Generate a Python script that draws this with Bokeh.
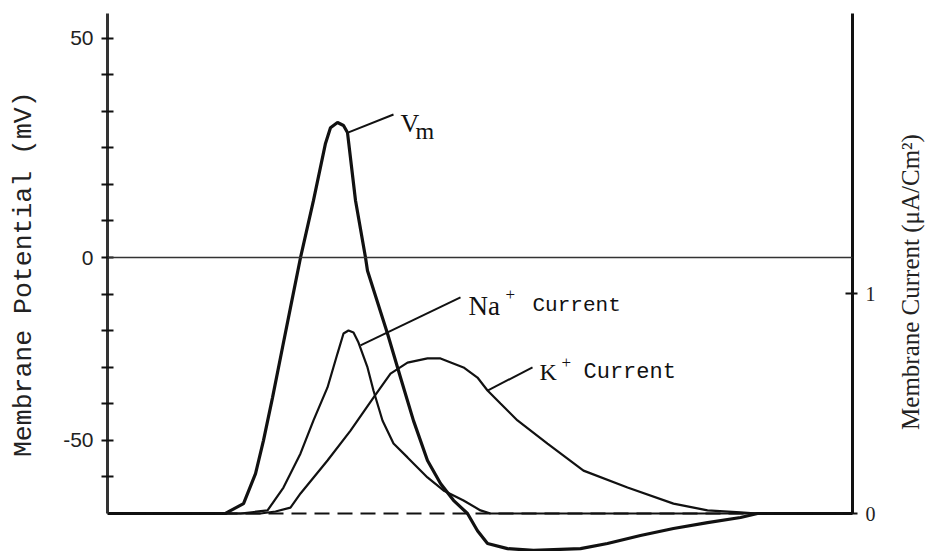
import math
from bokeh.plotting import figure
from bokeh.layouts import row
from bokeh.models import Range1d, LinearAxis, FixedTicker, Span, Label
from bokeh.embed import file_html
from bokeh.resources import INLINE

# ---------------- data ----------------
# Membrane potential, time in ms, potential in mV
vm_t = [0.0, 1.584, 1.651, 1.826, 1.987, 2.094, 2.215, 2.349, 2.456, 2.591, 2.765,
        2.926, 2.993, 3.087, 3.168, 3.221, 3.329, 3.463, 3.490, 3.758, 3.933, 4.107,
        4.295, 4.470, 4.644, 4.832, 4.966, 5.101, 5.369, 5.718, 6.349, 6.711, 7.154,
        7.597, 8.054, 8.497, 8.725, 10.0]
vm_v = [-70.0, -70.0, -69.2, -67.3, -59.1, -50.0, -38.3, -24.6, -13.7, 0.0, 15.6,
        31.2, 35.5, 36.9, 36.1, 34.2, 15.6, 0.0, -3.6, -20.8, -32.8, -44.6,
        -55.5, -61.8, -66.4, -70.0, -74.7, -78.2, -79.6, -80.1, -79.6, -78.2, -76.0,
        -74.1, -72.5, -71.1, -70.0, -70.0]

# Na+ current (right axis)
na_t = [0.0, 1.785, 2.148, 2.362, 2.591, 2.765, 2.953, 3.087, 3.168, 3.235, 3.302,
        3.369, 3.490, 3.570, 3.691, 3.839, 4.027, 4.295, 4.510, 4.779, 5.007, 5.141, 10.0]
na_i = [0.0, 0.0, 0.014, 0.118, 0.273, 0.423, 0.573, 0.727, 0.818, 0.832, 0.823,
        0.777, 0.664, 0.559, 0.423, 0.318, 0.255, 0.164, 0.105, 0.059, 0.014, 0.0, 0.0]

# K+ current (right axis)
k_t = [0.0, 2.054, 2.255, 2.456, 2.591, 2.953, 3.262, 3.570, 3.799, 4.027, 4.295,
       4.470, 4.779, 4.966, 5.101, 5.275, 5.503, 5.906, 6.389, 6.980, 7.597, 8.054,
       8.497, 8.725, 10.0]
k_i = [0.0, 0.0, 0.009, 0.027, 0.091, 0.241, 0.377, 0.527, 0.636, 0.686, 0.705,
       0.705, 0.664, 0.618, 0.559, 0.500, 0.423, 0.318, 0.195, 0.118, 0.045, 0.014,
       0.005, 0.0, 0.0]

# tick values and the labels printed at them in the reference
mv_ticks = [-50, 0, 60]
mv_tick_labels = ["-50", "0", "50"]
mv_minor_ticks = [-60, -40, -30, -20, -10, 10, 20, 30, 40, 50]
cur_ticks = [0, 1]
cur_tick_labels = ["0", "1"]

left_title = "Membrane Potential (mV)"
right_title = "Membrane Current (\u03bcA/Cm\u00b2)"

rest_mv = -70.0

INK = "#111111"
H = 551
LEFT_W, RIGHT_W = 44, 48
MAIN_W = 928 - LEFT_W - RIGHT_W


def title_panel(width, text, font, size, x_frac, y_frac):
    """A narrow axis-less figure that only carries a rotated axis title."""
    q = figure(width=width, height=H, x_range=Range1d(0, 1), y_range=Range1d(0, 1),
               x_axis_location=None, y_axis_location=None,
               output_backend="svg", toolbar_location=None,
               min_border_left=0, min_border_right=0, min_border_top=0, min_border_bottom=0)
    q.outline_line_color = None
    q.grid.visible = False
    q.add_layout(Label(x=x_frac, y=y_frac, text=text, angle=math.pi / 2,
                       text_font=font, text_font_size=size, text_color="#222222",
                       text_align="center", text_baseline="middle"))
    return q


# ---------------- main figure ----------------
p = figure(width=MAIN_W, height=H, x_range=Range1d(0, 10), y_range=Range1d(-80.39, 66.72),
           x_axis_location=None, y_axis_location="left",
           output_backend="svg", toolbar_location=None,
           min_border_left=107 - LEFT_W, min_border_right=LEFT_W + MAIN_W - 852,
           min_border_top=13, min_border_bottom=0)
p.outline_line_color = None
p.grid.visible = False
p.background_fill_color = "white"
p.border_fill_color = "white"

p.extra_y_ranges = {"cur": Range1d(-0.1727, 2.2727)}

# left axis
ya = p.yaxis[0]
ya.bounds = (rest_mv, 66.72)
ya.ticker = FixedTicker(ticks=mv_ticks, minor_ticks=mv_minor_ticks)
ya.major_label_overrides = dict(zip(mv_ticks, mv_tick_labels))
ya.axis_line_width = 3
ya.axis_line_color = "#333333"
ya.major_tick_line_width = 2
ya.minor_tick_line_width = 2
ya.major_tick_line_color = INK
ya.minor_tick_line_color = INK
ya.major_tick_in = 6
ya.major_tick_out = 6
ya.minor_tick_in = 6
ya.minor_tick_out = 6
ya.major_label_standoff = 8
ya.major_label_text_font = "Liberation Sans"
ya.major_label_text_font_size = "21px"
ya.major_label_text_color = "#222222"

# right axis
ra = LinearAxis(y_range_name="cur", bounds=(0, 2.2727))
ra.ticker = FixedTicker(ticks=cur_ticks, minor_ticks=[])
ra.major_label_overrides = dict(zip(cur_ticks, cur_tick_labels))
ra.axis_line_width = 3
ra.axis_line_color = INK
ra.major_tick_line_width = 2
ra.major_tick_line_color = INK
ra.major_tick_in = 7
ra.major_tick_out = 5
ra.major_label_standoff = 8
ra.major_label_text_font = "Liberation Serif"
ra.major_label_text_font_size = "20px"
ra.major_label_text_color = "#222222"
p.add_layout(ra, "right")

# reference lines
p.add_layout(Span(location=0, dimension="width", line_color="#333333", line_width=1.5))
p.add_layout(Span(location=rest_mv, dimension="width", line_color=INK, line_width=2,
                  line_dash="15 8"))

# curves
p.line(na_t, na_i, y_range_name="cur", line_color=INK, line_width=2.2)
p.line(k_t, k_i, y_range_name="cur", line_color=INK, line_width=2.2)
p.line(vm_t, vm_v, line_color=INK, line_width=3.2)

# leader lines
p.segment(x0=[3.235], y0=[34.2], x1=[3.839], y1=[39.1], line_color=INK, line_width=2)
p.segment(x0=[3.396, 5.101], y0=[0.764, 0.559], x1=[4.738, 5.705], y1=[0.982, 0.664],
          y_range_name="cur", line_color=INK, line_width=2)

# text annotations
def lab(x, y, text, font, size, rng="default"):
    p.add_layout(Label(x=x, y=y, text=text, y_range_name=rng, text_font=font,
                       text_font_size=size, text_color=INK, text_align="left",
                       text_baseline="alphabetic"))

lab(3.933, 36.6, "V", "Liberation Serif", "26px")
lab(4.134, 34.7, "m", "Liberation Serif", "24px")
lab(4.846, 0.945, "Na", "Liberation Serif", "27px", "cur")
lab(5.342, 0.995, "+", "Liberation Serif", "17px", "cur")
lab(5.705, 0.945, "Current", "Liberation Mono", "21px", "cur")
lab(5.800, 0.641, "K", "Liberation Serif", "24px", "cur")
lab(6.094, 0.686, "+", "Liberation Serif", "17px", "cur")
lab(6.389, 0.641, "Current", "Liberation Mono", "22px", "cur")

# axis titles in side panels
q_left = title_panel(LEFT_W, left_title, "Liberation Mono", "26.5px",
                     23 / LEFT_W, (H - 267) / H)
q_right = title_panel(RIGHT_W, right_title, "Liberation Serif", "25px",
                      (910 - LEFT_W - MAIN_W) / RIGHT_W, (H - 275) / H)

layout = row(q_left, p, q_right, spacing=0)
open("out.html", "w").write(file_html(layout, INLINE))
